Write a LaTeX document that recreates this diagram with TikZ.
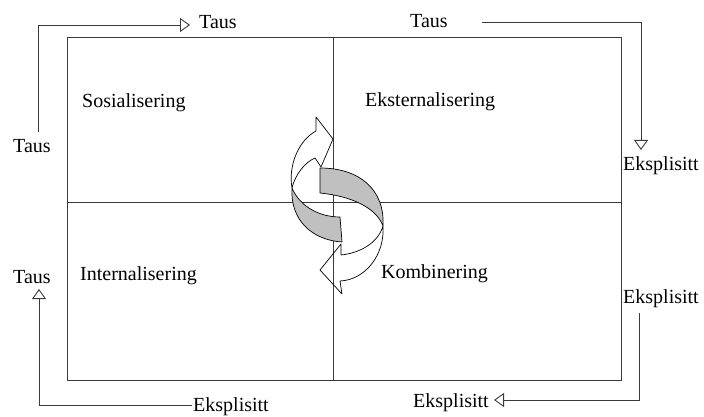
\documentclass[tikz,border=0pt]{standalone}
\usepackage{fontspec}
\setmainfont{Liberation Serif}
\usetikzlibrary{arrows.meta}
\definecolor{linec}{HTML}{3A3A3A}
\definecolor{bandgray}{HTML}{C0C0C0}
\begin{document}
\begin{tikzpicture}[x=1pt,y=-1pt,
  lbl/.style={font=\fontsize{20}{24}\selectfont, inner sep=0pt, anchor=base west},
  conn/.style={draw=linec, line width=0.9pt, -{Triangle[open,length=10pt,width=14pt]}},
  grid/.style={draw=linec, line width=0.9pt},
  rib/.style={draw=black, line width=0.7pt, line join=round},
  ribgray/.style={rib, fill=bandgray}]
\useasboundingbox (0,0) rectangle (704,417);
% frame
\node[grid, minimum width=554pt, minimum height=343pt, inner sep=0pt] (box) at (344,208.5) {};
\draw[grid] (box.north -| 333,0) -- (box.south -| 333,0);
\draw[grid] (box.west |- 0,202) -- (box.east |- 0,202);
% quadrant labels
\node[lbl] (sos) at (82,108) {Sosialisering};
\node[lbl] (eks) at (365,107) {Eksternalisering};
\node[lbl] (int) at (80,280) {Internalisering};
\node[lbl] (kom) at (381,278) {Kombinering};
% outer labels
\node[lbl] (tausTL) at (199,29) {Taus};
\node[lbl] (tausL) at (13,153) {Taus};
\node[lbl] (tausTR) at (410,28) {Taus};
\node[lbl] (eksR1) at (623,171) {Eksplisitt};
\node[lbl] (tausBL) at (13,283) {Taus};
\node[lbl] (eksBL) at (193,411) {Eksplisitt};
\node[lbl] (eksR2) at (623,303) {Eksplisitt};
\node[lbl] (eksBR) at (413,407) {Eksplisitt};
% connectors
\coordinate (tlS) at (38,132); \coordinate (tlE) at (190,25);
\coordinate (trS) at (482,22); \coordinate (trE) at (641,150);
\coordinate (blS) at (192,405); \coordinate (blE) at (39,289);
\coordinate (brS) at (639,313); \coordinate (brE) at (494,400);
\draw[conn] (tlS) |- (tlE);
\draw[conn] (trS) -| (trE);
\draw[conn] (blS) -| (blE);
\draw[conn] (brS) |- (brE);
% central twisted ribbon
\draw[rib] (292,188) .. controls (288,165) and (299,140) .. (316,131) -- (316,117) -- (333,139) -- (321,167) -- (315,158) .. controls (305,162) and (295,175) .. (292,188) -- cycle;
\draw[ribgray] (292,188) .. controls (290,220) and (312,240) .. (342,242) -- (340,217) .. controls (320,217) and (300,207) .. (292,188) -- cycle;
\draw[ribgray] (320,168) -- (320,193) .. controls (350,196) and (376,207) .. (383,226) .. controls (385,190) and (360,168) .. (320,168) -- cycle;
\draw[rib] (383,226) .. controls (385,255) and (365,280) .. (340,281) -- (342,294) -- (320,270) -- (341,244) -- (341,255) .. controls (360,253) and (378,243) .. (383,226) -- cycle;
\end{tikzpicture}
\end{document}
